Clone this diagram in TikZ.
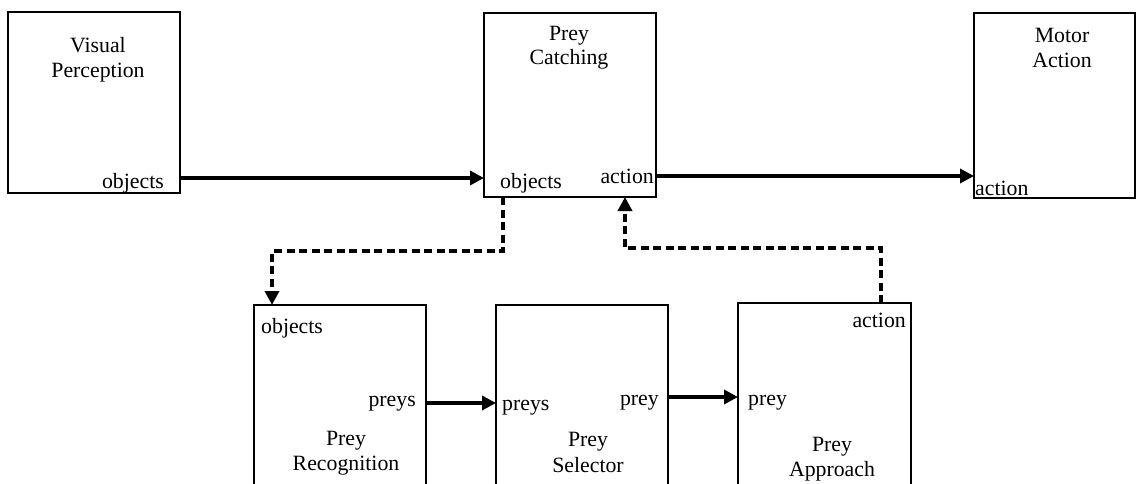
\documentclass[tikz,border=0pt]{standalone}
\usepackage{fontspec}
\setmainfont{Liberation Serif}
\usetikzlibrary{arrows.meta}
\begin{document}
\begin{tikzpicture}[x=1pt,y=-1pt,
  box/.style={draw=black, line width=1.9pt, rectangle, inner sep=0pt, outer sep=0pt, anchor=north west},
  txt/.style={inner sep=0pt, font=\fontsize{21.8}{25.5}\selectfont},
  flow/.style={line width=3.7pt, -{Triangle[length=14pt,width=14pt]}},
  ctrl/.style={line width=3.8pt, dash pattern=on 8pt off 4.5pt, -{Triangle[length=14pt,width=14pt]}}]
\useasboundingbox (0,0) rectangle (1137,484);
\clip (0,0) rectangle (1137,484);

% module boxes
\node[box, minimum width=172pt, minimum height=181pt] (vp) at (8,12) {};
\node[box, minimum width=172pt, minimum height=184pt] (pc) at (484,13) {};
\node[box, minimum width=161pt, minimum height=185pt] (ma) at (974,13) {};
\node[box, minimum width=172pt, minimum height=200pt] (pr) at (254,305) {};
\node[box, minimum width=172pt, minimum height=200pt] (ps) at (496,305) {};
\node[box, minimum width=173pt, minimum height=200pt] (pa) at (738,303) {};

% module titles
\node[txt, anchor=base] (vpT1) at (98,52.5) {Visual};
\node[txt, anchor=base] (vpT2) at (98,77.5) {Perception};
\node[txt, anchor=base] (pcT1) at (569,40.5) {Prey};
\node[txt, anchor=base] (pcT2) at (569,65) {Catching};
\node[txt, anchor=base] (maT1) at (1062,43) {Motor};
\node[txt, anchor=base] (maT2) at (1062,68) {Action};
\node[txt, anchor=base] (prT1) at (346,445) {Prey};
\node[txt, anchor=base] (prT2) at (346,470) {Recognition};
\node[txt, anchor=base] (psT1) at (588,446) {Prey};
\node[txt, anchor=base] (psT2) at (588,472) {Selector};
\node[txt, anchor=base] (paT1) at (832,451) {Prey};
\node[txt, anchor=base] (paT2) at (832,476) {Approach};

% port labels
\node[txt, anchor=base east] (vpObj) at (164,188) {objects};
\node[txt, anchor=base west] (pcObj) at (500,188) {objects};
\node[txt, anchor=base east] (pcAct) at (654,183) {action};
\node[txt, anchor=base west] (maAct) at (975,195.5) {action};
\node[txt, anchor=base west] (prObj) at (261,333) {objects};
\node[txt, anchor=base east] (prPreys) at (416,406) {preys};
\node[txt, anchor=base west] (psPreys) at (502,410) {preys};
\node[txt, anchor=base east] (psPrey) at (659,405) {prey};
\node[txt, anchor=base west] (paPrey) at (748,405) {prey};
\node[txt, anchor=base east] (paAct) at (906,327) {action};

% port positions on the box borders
\coordinate (objRow) at (0,178);
\coordinate (actRow) at (0,176);
\coordinate (preysRow) at (0,403);
\coordinate (preyRow) at (0,397);
\coordinate (pcObjPort) at (503,0);
\coordinate (pcActPort) at (625,0);
\coordinate (prObjPort) at (272,0);
\coordinate (paActPort) at (881,0);
\coordinate (downBus) at (0,251);
\coordinate (upBus) at (0,248);

% data flow
\draw[flow] (vp.east |- objRow) -- (pc.west |- objRow);
\draw[flow] (pc.east |- actRow) -- (ma.west |- actRow);
\draw[flow] (pr.east |- preysRow) -- (ps.west |- preysRow);
\draw[flow] (ps.east |- preyRow) -- (pa.west |- preyRow);

% delegation to and from the sub-modules
\draw[ctrl] (pc.south -| pcObjPort) -- (pcObjPort |- downBus) -- (prObjPort |- downBus) -- (pr.north -| prObjPort);
\draw[ctrl] (pa.north -| paActPort) -- (paActPort |- upBus) -- (pcActPort |- upBus) -- (pc.south -| pcActPort);
\end{tikzpicture}
\end{document}
